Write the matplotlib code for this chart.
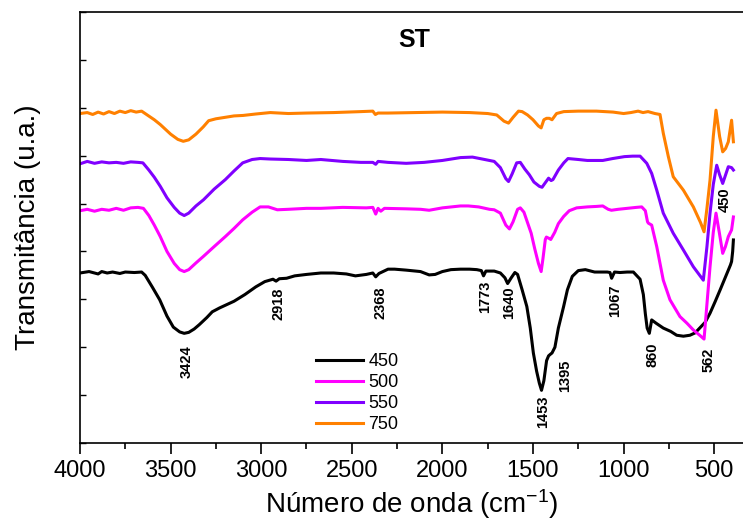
import matplotlib
matplotlib.use("Agg")
import matplotlib.pyplot as plt
from matplotlib.ticker import MultipleLocator

plt.rcParams['font.family'] = ['Liberation Sans', 'DejaVu Sans']
plt.rcParams['mathtext.default'] = 'regular'

# espectros FTIR (numero de onda, transmitancia deslocada)
wn_450 = [4000, 3950, 3900, 3880, 3850, 3820, 3780, 3750, 3700, 3660, 3640, 3600, 3560, 3520, 3485,
          3450, 3425, 3400, 3370, 3342, 3300, 3270, 3230, 3150, 3090, 3030, 2980, 2935, 2918, 2900,
          2860, 2815, 2750, 2671, 2600, 2530, 2480, 2420, 2384, 2368, 2350, 2300, 2264, 2200, 2121,
          2073, 2040, 2000, 1953, 1900, 1850, 1810, 1785, 1773, 1760, 1714, 1680, 1655, 1640, 1620,
          1600, 1585, 1560, 1534, 1515, 1498, 1480, 1465, 1453, 1440, 1425, 1414, 1405, 1395, 1379,
          1360, 1331, 1310, 1283, 1250, 1211, 1160, 1115, 1090, 1075, 1066, 1050, 1020, 980, 946,
          909, 891, 880, 870, 858, 845, 820, 781, 740, 707, 670, 634, 605, 580, 550, 523, 495, 468,
          445, 422, 410, 404, 398, 394]
tr_450 = [3.55, 3.58, 3.53, 3.58, 3.55, 3.57, 3.54, 3.57, 3.56, 3.57, 3.50, 3.25, 2.99, 2.65, 2.42,
          2.32, 2.29, 2.31, 2.38, 2.47, 2.62, 2.74, 2.82, 2.96, 3.10, 3.26, 3.37, 3.42, 3.38, 3.43,
          3.44, 3.49, 3.52, 3.55, 3.55, 3.53, 3.49, 3.52, 3.55, 3.47, 3.54, 3.63, 3.63, 3.61, 3.58,
          3.51, 3.52, 3.58, 3.62, 3.63, 3.63, 3.62, 3.60, 3.49, 3.59, 3.59, 3.55, 3.45, 3.33, 3.45,
          3.56, 3.52, 3.20, 2.85, 2.40, 1.88, 1.50, 1.25, 1.10, 1.30, 1.72, 1.82, 1.85, 1.88, 2.00,
          2.40, 2.85, 3.20, 3.48, 3.60, 3.62, 3.57, 3.57, 3.57, 3.56, 3.44, 3.57, 3.56, 3.57, 3.57,
          3.42, 3.10, 2.70, 2.40, 2.29, 2.57, 2.50, 2.40, 2.33, 2.25, 2.23, 2.25, 2.30, 2.40, 2.52,
          2.71, 2.95, 3.19, 3.40, 3.61, 3.72, 3.79, 4.00, 4.24]

wn_500 = [4000, 3960, 3920, 3880, 3840, 3800, 3760, 3720, 3680, 3650, 3620, 3590, 3557, 3520, 3480,
          3450, 3425, 3400, 3360, 3318, 3260, 3198, 3150, 3102, 3050, 3006, 2960, 2911, 2850, 2750,
          2671, 2550, 2420, 2384, 2368, 2355, 2340, 2320, 2200, 2120, 2073, 2000, 1900, 1857, 1800,
          1740, 1714, 1680, 1650, 1630, 1610, 1585, 1570, 1550, 1530, 1510, 1490, 1470, 1455, 1445,
          1432, 1426, 1410, 1402, 1380, 1360, 1331, 1300, 1259, 1200, 1150, 1115, 1085, 1067, 1030,
          980, 930, 900, 880, 868, 863, 845, 817, 781, 744, 689, 650, 615, 580, 556, 540, 523, 505,
          490, 472, 453, 438, 422, 404, 394]
tr_500 = [4.85, 4.88, 4.84, 4.88, 4.86, 4.90, 4.86, 4.91, 4.92, 4.90, 4.75, 4.55, 4.31, 4.00, 3.75,
          3.62, 3.58, 3.62, 3.76, 3.90, 4.10, 4.31, 4.48, 4.66, 4.82, 4.93, 4.93, 4.87, 4.88, 4.90,
          4.90, 4.92, 4.91, 4.92, 4.78, 4.90, 4.84, 4.90, 4.89, 4.88, 4.86, 4.91, 4.95, 4.95, 4.93,
          4.88, 4.87, 4.80, 4.55, 4.47, 4.62, 4.88, 4.91, 4.82, 4.60, 4.38, 4.05, 3.75, 3.58, 3.85,
          4.25, 4.30, 4.27, 4.25, 4.40, 4.58, 4.73, 4.85, 4.91, 4.93, 4.94, 4.95, 4.88, 4.86, 4.88,
          4.90, 4.92, 4.93, 4.85, 4.62, 4.59, 4.55, 4.10, 3.40, 2.99, 2.64, 2.50, 2.36, 2.25, 2.17,
          2.90, 3.68, 4.40, 4.80, 4.40, 3.96, 4.10, 4.31, 4.45, 4.72]

wn_550 = [4000, 3960, 3920, 3880, 3840, 3800, 3760, 3720, 3680, 3653, 3620, 3590, 3557, 3520, 3480,
          3450, 3425, 3400, 3360, 3318, 3260, 3198, 3150, 3102, 3050, 3006, 2950, 2850, 2750, 2671,
          2550, 2450, 2384, 2368, 2355, 2300, 2200, 2100, 2000, 1900, 1834, 1780, 1714, 1680, 1650,
          1635, 1615, 1590, 1570, 1545, 1520, 1495, 1465, 1450, 1435, 1414, 1400, 1390, 1360, 1330,
          1307, 1250, 1200, 1115, 1060, 995, 950, 909, 872, 845, 817, 781, 726, 670, 615, 560, 540,
          523, 505, 486, 470, 453, 437, 422, 404, 394]
tr_550 = [5.83, 5.88, 5.84, 5.87, 5.85, 5.86, 5.84, 5.87, 5.86, 5.85, 5.70, 5.55, 5.36, 5.12, 4.92,
          4.80, 4.75, 4.80, 4.95, 5.08, 5.30, 5.50, 5.68, 5.85, 5.92, 5.94, 5.93, 5.92, 5.90, 5.92,
          5.88, 5.86, 5.86, 5.82, 5.88, 5.86, 5.84, 5.86, 5.90, 5.96, 5.97, 5.93, 5.88, 5.75, 5.52,
          5.46, 5.62, 5.85, 5.86, 5.72, 5.60, 5.45, 5.36, 5.34, 5.42, 5.53, 5.48, 5.50, 5.70, 5.85,
          5.94, 5.92, 5.90, 5.90, 5.94, 5.98, 5.99, 5.99, 5.84, 5.63, 5.28, 4.80, 4.38, 4.03, 3.68,
          3.40, 4.10, 4.80, 5.40, 5.80, 5.60, 5.42, 5.60, 5.77, 5.75, 5.70]

wn_750 = [4000, 3960, 3930, 3900, 3870, 3840, 3810, 3780, 3750, 3720, 3690, 3660, 3629, 3590, 3557,
          3500, 3460, 3430, 3400, 3360, 3320, 3290, 3250, 3200, 3150, 3100, 3030, 2950, 2850, 2750,
          2600, 2450, 2384, 2370, 2355, 2300, 2150, 2000, 1850, 1750, 1700, 1660, 1635, 1610, 1580,
          1560, 1530, 1500, 1470, 1455, 1440, 1425, 1410, 1395, 1370, 1330, 1250, 1150, 1058, 1000,
          960, 920, 893, 865, 827, 799, 781, 753, 726, 670, 615, 575, 556, 540, 523, 505, 490, 470,
          453, 437, 422, 404, 394]
tr_750 = [6.88, 6.90, 6.86, 6.91, 6.87, 6.92, 6.88, 6.93, 6.90, 6.94, 6.91, 6.93, 6.85, 6.75, 6.65,
          6.45, 6.34, 6.30, 6.33, 6.45, 6.60, 6.73, 6.77, 6.80, 6.83, 6.84, 6.87, 6.90, 6.88, 6.89,
          6.90, 6.92, 6.93, 6.86, 6.89, 6.89, 6.90, 6.91, 6.90, 6.88, 6.85, 6.72, 6.68, 6.80, 6.93,
          6.92, 6.85, 6.75, 6.62, 6.58, 6.75, 6.78, 6.78, 6.75, 6.88, 6.92, 6.93, 6.93, 6.91, 6.88,
          6.90, 6.93, 6.90, 6.92, 6.88, 6.86, 6.47, 5.98, 5.56, 5.28, 4.93, 4.60, 4.41, 4.90, 5.49,
          6.40, 6.95, 6.40, 6.08, 6.15, 6.29, 6.74, 6.29]

series = [("450", wn_450, tr_450, "black"),
          ("500", wn_500, tr_500, "#ff00ff"),
          ("550", wn_550, tr_550, "#8000ff"),
          ("750", wn_750, tr_750, "#ff8000")]

# bandas marcadas: (texto, x, y)
band_labels = ["3424", "2918", "2368", "1773", "1640", "1453", "1395", "1067", "860", "562", "450"]
band_x = [3413, 2904, 2343, 1762, 1630, 1446, 1325, 1048, 840, 533, 440]
band_y = [1.70, 2.91, 2.92, 3.06, 2.94, 0.66, 1.40, 2.96, 1.84, 1.73, 5.09]

fig = plt.figure(figsize=(7.43, 5.29), dpi=100)
ax = fig.add_axes([80 / 743, 1 - 443 / 529, 663 / 743, 431 / 529])

for name, wn, tr, col in series:
    ax.plot(wn, tr, color=col, lw=2.2, label=name)

for txt, x, y in zip(band_labels, band_x, band_y):
    ax.text(x, y, txt, rotation=90, ha='center', va='center', fontsize=10.5, fontweight='bold')

ax.text(2157, 8.42, "ST", ha='center', va='center', fontsize=18, fontweight='bold')

ax.set_xlim(4000, 341)
ax.set_ylim(0, 9)
ax.xaxis.set_major_locator(MultipleLocator(500))
ax.xaxis.set_minor_locator(MultipleLocator(250))
ax.yaxis.set_major_locator(MultipleLocator(1))
ax.tick_params(axis='x', which='major', direction='out', length=8, width=1.2, labelsize=17, pad=4)
ax.tick_params(axis='x', which='minor', direction='out', length=4, width=1.2)
ax.tick_params(axis='y', which='major', direction='in', length=4, width=1.0, labelleft=False)
ax.spines['right'].set_visible(False)
for s in ['left', 'top', 'bottom']:
    ax.spines[s].set_linewidth(1.2)

ax.set_xlabel("Número de onda (cm$^{-1}$)", fontsize=20, labelpad=4)
ax.set_ylabel("Transmitância (u.a.)", fontsize=20, labelpad=28)

ax.legend(loc='upper left', bbox_to_anchor=(0.356, 0.209), frameon=False, fontsize=13,
          handlelength=2.6, handletextpad=0.3, labelspacing=0.22, borderpad=0, borderaxespad=0)

fig.savefig("out.png", dpi=100)
